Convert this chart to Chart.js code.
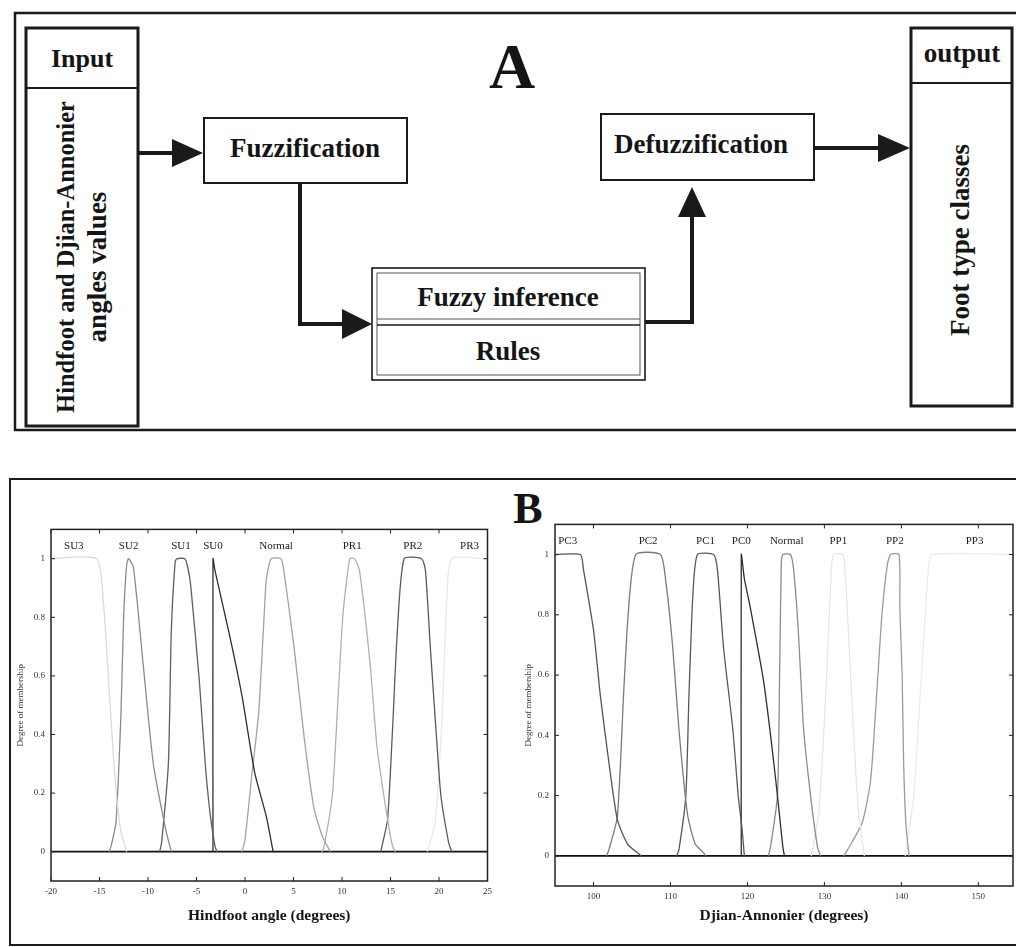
<!DOCTYPE html>
<html>
<head>
<meta charset="utf-8">
<title>Fuzzy foot type classification</title>
<script src="https://cdn.jsdelivr.net/npm/chart.js@4.4.1/dist/chart.umd.min.js"></script>
<style>
    html, body { margin: 0; padding: 0; background: #fff; }
    body { width: 1016px; height: 947px; overflow: hidden; position: relative; }
    #flow { position: absolute; left: 0; top: 0; }
    #flow text { font-family: "Liberation Serif", "DejaVu Serif", serif; font-weight: bold; fill: #151515; }
    canvas { position: absolute; }
</style>
</head>
<body>
<svg id="flow" width="1016" height="947">
    <!-- panel A -->
    <g fill="none" stroke="#1a1a1a">
        <rect x="15" y="13" width="1010" height="417" stroke-width="2.5"/>
        <rect x="26" y="28" width="112" height="398" stroke-width="3"/>
        <line x1="26" y1="88" x2="138" y2="88" stroke-width="2"/>
        <rect x="204" y="118" width="203" height="65" stroke-width="2"/>
        <rect x="372" y="268" width="273" height="112" stroke-width="1.6"/>
        <rect x="377" y="273" width="263" height="102" stroke-width="1" stroke="#555"/>
        <line x1="377" y1="319" x2="640" y2="319" stroke-width="1" stroke="#555"/>
        <line x1="377" y1="325" x2="640" y2="325" stroke-width="1.4"/>
        <rect x="601" y="114" width="213" height="66" stroke-width="2"/>
        <rect x="911" y="28" width="101" height="378" stroke-width="3"/>
        <line x1="911" y1="83" x2="1012" y2="83" stroke-width="2"/>
        <line x1="139" y1="153" x2="176" y2="153" stroke-width="4"/>
        <polyline points="300,183 300,324 346,324" stroke-width="4"/>
        <polyline points="645,322 692,322 692,214" stroke-width="4"/>
        <line x1="814" y1="148" x2="881" y2="148" stroke-width="4"/>
    </g>
    <g fill="#1a1a1a">
        <polygon points="172,139 203,153 172,167"/>
        <polygon points="342,309 372,324 342,339"/>
        <polygon points="678,217 692,187 706,217"/>
        <polygon points="878,134 910,148 878,162"/>
    </g>
    <text x="82" y="67" font-size="26" text-anchor="middle">Input</text>
    <text transform="translate(74,257) rotate(-90)" font-size="24.5" text-anchor="middle">Hindfoot and Djian-Annonier</text>
    <text transform="translate(106,267) rotate(-90)" font-size="27" text-anchor="middle">angles values</text>
    <text x="512" y="88" font-size="64" text-anchor="middle">A</text>
    <text x="305" y="157" font-size="27" text-anchor="middle">Fuzzification</text>
    <text x="508" y="306" font-size="27" text-anchor="middle">Fuzzy inference</text>
    <text x="508" y="360" font-size="27" text-anchor="middle">Rules</text>
    <text x="701" y="153" font-size="27" text-anchor="middle">Defuzzification</text>
    <text x="962" y="62" font-size="27" text-anchor="middle">output</text>
    <text transform="translate(969,240) rotate(-90)" font-size="27" text-anchor="middle">Foot type classes</text>
    <!-- panel B -->
    <rect x="10" y="479" width="1010" height="466" fill="none" stroke="#1a1a1a" stroke-width="2"/>
    <text x="528" y="523" font-size="44" text-anchor="middle">B</text>
</svg>

<canvas id="hindfoot" width="486" height="413" style="left:11px; top:518px;"></canvas>
<canvas id="djian" width="497" height="421" style="left:519px; top:513px;"></canvas>

<script>
(function () {
    "use strict";

    // Degree of membership ticks (both plots)
    var membershipTicks = [0, 0.2, 0.4, 0.6, 0.8, 1];

    // Hindfoot angle membership functions, [angle, membership]
    var hindfootTicks = [-20, -15, -10, -5, 0, 5, 10, 15, 20, 25];
    var hindfootClasses = ["SU3", "SU2", "SU1", "SU0", "Normal", "PR1", "PR2", "PR3"];
    var hindSU3 = [[-20, 1], [-15.3, 1], [-14.6, 0.85], [-14, 0.55], [-13.4, 0.25], [-12.8, 0.07], [-12.2, 0]];
    var hindSU2 = [[-14, 0], [-13.8, 0.02], [-13.3, 0.1], [-12.8, 0.46], [-12.5, 0.81], [-12.2, 0.98], [-12, 1],
        [-11.5, 0.97], [-10.5, 0.64], [-9.45, 0.3], [-8.2, 0.08], [-7.6, 0]];
    var hindSU1 = [[-8.8, 0], [-8.6, 0.03], [-7.9, 0.3], [-7.6, 0.75], [-7.2, 0.99], [-7, 1], [-6.2, 1], [-5.9, 0.97],
        [-5.6, 0.91], [-4.7, 0.58], [-4.1, 0.3], [-3.6, 0.13], [-3.1, 0.02], [-2.9, 0]];
    var hindSU0 = [[-3.3, 0], [-3.3, 1], [-3.1, 0.96], [-1.6, 0.74], [-0.3, 0.53], [1, 0.27], [2.2, 0.12], [2.9, 0]];
    var hindNormal = [[-0.3, 0], [0, 0.04], [0.7, 0.26], [1.4, 0.47], [1.9, 0.76], [2.2, 0.93], [2.7, 1], [3.7, 1],
        [4, 0.96], [5.05, 0.7], [6.1, 0.39], [7.1, 0.15], [8, 0.05], [8.8, 0]];
    var hindPR1 = [[7.9, 0], [8.1, 0.01], [9, 0.19], [9.6, 0.53], [10.1, 0.81], [10.8, 1], [11.3, 1], [11.8, 0.96],
        [12.9, 0.64], [13.6, 0.36], [14.6, 0.13], [15.2, 0.02], [15.5, 0]];
    var hindPR2 = [[14, 0], [14.2, 0.03], [14.7, 0.11], [15.2, 0.41], [15.7, 0.75], [16.4, 1], [18.2, 1], [18.6, 0.96],
        [19.1, 0.7], [19.7, 0.41], [20.2, 0.19], [21, 0.03], [21.3, 0]];
    var hindPR3 = [[18.8, 0], [19.6, 0.1], [20.3, 0.45], [20.8, 0.85], [21.3, 1], [25, 1]];
    var hindZero = [[-20, 0], [25, 0]];

    // Djian-Annonier angle membership functions
    var djianTicks = [100, 110, 120, 130, 140, 150];
    var djianClasses = ["PC3", "PC2", "PC1", "PC0", "Normal", "PP1", "PP2", "PP3"];
    var djianPC3 = [[95, 1], [98.3, 1], [98.7, 0.95], [100, 0.75], [100.9, 0.53], [102, 0.31], [103.1, 0.12],
        [104.4, 0.04], [105.7, 0.01], [106.2, 0]];
    var djianPC2 = [[101.7, 0], [102, 0.02], [103.1, 0.13], [103.9, 0.53], [104.5, 0.8], [105.5, 1], [108.7, 1],
        [109.4, 0.91], [110.3, 0.69], [111.1, 0.42], [112.2, 0.14], [113.2, 0.04], [114.3, 0.01], [114.6, 0]];
    var djianPC1 = [[110.8, 0], [111.1, 0.02], [112, 0.2], [112.4, 0.53], [112.9, 0.86], [113.5, 1], [115.6, 1],
        [116.1, 0.95], [116.9, 0.69], [118.1, 0.42], [118.8, 0.2], [119.3, 0.09], [119.6, 0]];
    var djianPC0 = [[119.2, 0], [119.2, 1], [119.6, 0.92], [120.4, 0.82], [122.1, 0.58], [123.1, 0.38],
        [123.9, 0.2], [124.6, 0.03], [124.8, 0]];
    var djianNormal = [[122.7, 0], [123, 0.03], [123.9, 0.2], [124.2, 0.64], [124.4, 0.97], [124.6, 1], [125.6, 1],
        [126, 0.95], [126.6, 0.75], [127.3, 0.42], [128.2, 0.2], [129.1, 0.03], [129.5, 0]];
    var djianPP1 = [[128.3, 0], [129.3, 0.15], [130.2, 0.55], [130.9, 0.95], [131.2, 1], [132.4, 1], [132.8, 0.9],
        [133.6, 0.5], [134.4, 0.15], [135.2, 0]];
    var djianPP2 = [[132.5, 0], [133, 0.02], [134.9, 0.11], [136, 0.25], [136.9, 0.58], [137.5, 0.81], [138.2, 0.97],
        [138.6, 1], [139.7, 1], [139.8, 0.82], [140.1, 0.6], [140.3, 0.3], [140.6, 0.1], [141, 0]];
    var djianPP3 = [[140.5, 0], [141.6, 0.2], [142.6, 0.6], [143.5, 0.95], [144, 1], [155, 1]];
    var djianZero = [[95, 0], [155, 0]];

    var serif = "'Liberation Serif', 'DejaVu Serif', serif";

    // box round the plot, inward ticks, class names over the peaks
    var frameAndLabels = {
        id: "frameAndLabels",
        afterDraw: function (chart) {
            var a = chart.chartArea, c = chart.ctx;
            var xs = chart.scales.x, ys = chart.scales.y;
            c.save();
            c.strokeStyle = "#222";
            c.lineWidth = 1.5;
            c.strokeRect(a.left, a.top, a.right - a.left, a.bottom - a.top);
            c.lineWidth = 1;
            c.beginPath();
            xs.ticks.forEach(function (t) {
                var px = xs.getPixelForValue(t.value);
                c.moveTo(px, a.bottom); c.lineTo(px, a.bottom - 4);
                c.moveTo(px, a.top); c.lineTo(px, a.top + 4);
            });
            ys.ticks.forEach(function (t) {
                var py = ys.getPixelForValue(t.value);
                c.moveTo(a.left, py); c.lineTo(a.left + 4, py);
                c.moveTo(a.right, py); c.lineTo(a.right - 4, py);
            });
            c.stroke();

            c.font = "11px " + serif;
            c.fillStyle = "#222";
            c.textAlign = "center";
            c.textBaseline = "middle";
            chart.data.datasets.forEach(function (ds) {
                if (!ds.className) return;
                var peak = ds.data.filter(function (p) { return p.y === 1; });
                var cx = peak.reduce(function (s, p) { return s + p.x; }, 0) / peak.length;
                c.fillText(ds.className, xs.getPixelForValue(cx), ys.getPixelForValue(1) - 13);
            });
            c.restore();
        }
    };

    function toPoints(arr) {
        return arr.map(function (p) { return {x: p[0], y: p[1]}; });
    }

    function plainLabel(value) {
        return String(value);
    }

    function buildChart(id, cfg) {
        var ctx = document.getElementById(id).getContext("2d");
        var datasets = cfg.curves.map(function (pts, i) {
            return {
                className: cfg.classes[i],
                data: toPoints(pts),
                showLine: true,
                borderColor: cfg.shades[i],
                borderWidth: 1.3,
                pointRadius: 0,
                tension: 0.2
            };
        });
        datasets.push({
            data: toPoints(cfg.zero),
            showLine: true,
            borderColor: "#111",
            borderWidth: 1.8,
            pointRadius: 0
        });

        return new Chart(ctx, {
            type: "scatter",
            data: {datasets: datasets},
            options: {
                responsive: false,
                animation: false,
                events: [],
                layout: {padding: {top: cfg.padTop, right: cfg.padRight, left: 0, bottom: 0}},
                plugins: {legend: {display: false}, tooltip: {enabled: false}},
                scales: {
                    x: {
                        type: "linear",
                        min: cfg.xMin,
                        max: cfg.xMax,
                        afterBuildTicks: function (s) {
                            s.ticks = cfg.xTicks.map(function (v) { return {value: v}; });
                        },
                        afterFit: function (s) { s.height = cfg.xHeight; },
                        grid: {display: false, drawTicks: false},
                        border: {display: false},
                        ticks: {font: {family: serif, size: 9}, color: "#333", padding: 5, maxRotation: 0,
                            autoSkip: false, callback: plainLabel},
                        title: {
                            display: true,
                            text: cfg.xTitle,
                            color: "#151515",
                            font: {family: serif, size: 15.5, weight: "bold"},
                            padding: {top: 0, bottom: cfg.titlePad}
                        }
                    },
                    y: {
                        type: "linear",
                        min: -0.1,
                        max: 1.1,
                        afterBuildTicks: function (s) {
                            s.ticks = membershipTicks.map(function (v) { return {value: v}; });
                        },
                        afterFit: function (s) { s.width = cfg.yWidth; },
                        grid: {display: false, drawTicks: false},
                        border: {display: false},
                        ticks: {font: {family: serif, size: 9}, color: "#333", padding: 6, autoSkip: false,
                            callback: plainLabel},
                        title: {
                            display: true,
                            text: "Degree of membership",
                            color: "#333",
                            font: {family: serif, size: 9},
                            padding: {top: 4, bottom: 0}
                        }
                    }
                }
            },
            plugins: [frameAndLabels]
        });
    }

    if (typeof Chart === "undefined") {
        console.error("Chart.js not loaded");
        return;
    }

    // Hindfoot angle chart
    buildChart("hindfoot", {
        curves: [hindSU3, hindSU2, hindSU1, hindSU0, hindNormal, hindPR1, hindPR2, hindPR3],
        classes: hindfootClasses,
        shades: ["#dadada", "#8a8a8a", "#5e5e5e", "#2e2e2e", "#a2a2a2", "#b0b0b0", "#5a5a5a", "#e8e8e8"],
        zero: hindZero,
        xTicks: hindfootTicks,
        xMin: -20,
        xMax: 25,
        xTitle: "Hindfoot angle (degrees)",
        padTop: 11,
        padRight: 4,
        xHeight: 50,
        yWidth: 40,
        titlePad: 6
    });

    // Djian-Annonier chart
    buildChart("djian", {
        curves: [djianPC3, djianPC2, djianPC1, djianPC0, djianNormal, djianPP1, djianPP2, djianPP3],
        classes: djianClasses,
        shades: ["#555555", "#7a7a7a", "#575757", "#2e2e2e", "#8c8c8c", "#e6e6e6", "#9a9a9a", "#ececec"],
        zero: djianZero,
        xTicks: djianTicks,
        xMin: 95,
        xMax: 154.5,
        xTitle: "Djian-Annonier (degrees)",
        padTop: 11,
        padRight: 3,
        xHeight: 48,
        yWidth: 36,
        titlePad: 9
    });
})();
</script>
</body>
</html>
